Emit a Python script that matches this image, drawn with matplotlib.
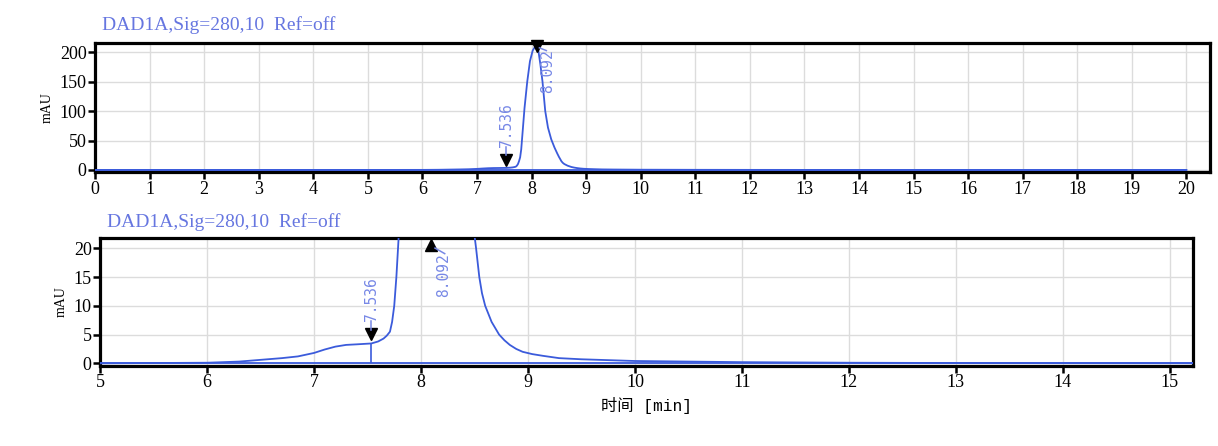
import matplotlib
matplotlib.use('Agg')
import matplotlib.pyplot as plt
from matplotlib.transforms import offset_copy

# chromatogram (min, mAU)
times = [0, 1, 2, 3, 4, 5, 5.5, 6.0, 6.3, 6.5, 6.7, 6.85, 7.0, 7.1, 7.2, 7.3, 7.4,
         7.536, 7.6, 7.65, 7.68, 7.71, 7.73, 7.75, 7.77, 7.79, 7.81, 7.84, 7.87,
         7.92, 7.97, 8.02, 8.06, 8.092, 8.12, 8.16, 8.20, 8.25, 8.30, 8.36, 8.42,
         8.47, 8.505, 8.515, 8.545, 8.57, 8.60, 8.66, 8.73, 8.78, 8.83, 8.89, 8.95,
         9.04, 9.14, 9.29, 9.5, 9.75, 10.0, 10.5, 11, 12, 13, 14, 15, 16, 17, 18,
         19, 20]
signal = [0, 0, 0, 0, 0, 0, 0.05, 0.1, 0.3, 0.6, 0.9, 1.2, 1.8, 2.4, 2.9, 3.2, 3.3,
          3.45, 3.8, 4.3, 4.8, 5.5, 7.2, 10, 15, 21.5, 35, 70, 105,
          150, 185, 203, 209, 210, 205, 180, 150, 100, 72, 52, 38,
          28, 21.5, 20, 15, 12.2, 10, 7.2, 5, 4, 3.2, 2.5, 2.0,
          1.6, 1.3, 0.9, 0.7, 0.55, 0.4, 0.3, 0.2, 0.1, 0.05, 0.03, 0.02, 0, 0, 0,
          0, 0]

peak_times = [7.536, 8.092]
peak_heights = [3.45, 210]
baseline_t = [0, 20]
baseline_v = [0, 0]

top_yticks = [0, 50, 100, 150, 200]
bot_yticks = [0, 5, 10, 15, 20]
title = 'DAD1A,Sig=280,10  Ref=off'

line_col = '#3b5bdb'
lab_col = '#7788e6'
title_col = '#6676e0'

fig = plt.figure(figsize=(12.18, 4.46), dpi=100)
ax1 = fig.add_axes([0.0780, 0.6137, 0.9154, 0.2892])
ax2 = fig.add_axes([0.0821, 0.1800, 0.8976, 0.2857])


def style(ax, xticks, yticks):
    ax.set_xticks(xticks)
    ax.set_yticks(yticks)
    ax.grid(True, color='#dcdcdc', lw=1)
    ax.set_axisbelow(True)
    for s in ax.spines.values():
        s.set_linewidth(2.3)
        s.set_color('black')
    ax.tick_params(direction='out', length=5, width=1.8, color='black', pad=1,
                   labelsize=13)
    for lab in ax.get_xticklabels() + ax.get_yticklabels():
        lab.set_family('Liberation Serif')
    ax.set_ylabel('mAU', family='Liberation Serif', fontsize=10, labelpad=4)


# top panel: full run
ax1.plot(times, signal, color=line_col, lw=1.3, zorder=3)
ax1.plot(baseline_t, baseline_v, color=line_col, lw=1.3, zorder=3)
ax1.set_xlim(0, 20.43)
ax1.set_ylim(-4, 215.3)
style(ax1, range(0, 21), top_yticks)
ax1.text(0.006, 1.14, title, transform=ax1.transAxes, family='Liberation Serif',
         fontsize=14, color=title_col, va='center', ha='left')

# bottom panel: zoom
ax2.plot(times, signal, color=line_col, lw=1.3, zorder=3)
ax2.plot(baseline_t, baseline_v, color=line_col, lw=1.3, zorder=3)
ax2.vlines(peak_times[0], 0, peak_heights[0], color=line_col, lw=1.2, zorder=3)
ax2.set_xlim(5, 15.218)
ax2.set_ylim(-0.42, 21.74)
style(ax2, range(5, 16), bot_yticks)
ax2.text(0.0064, 1.125, title, transform=ax2.transAxes, family='Liberation Serif',
         fontsize=14, color=title_col, va='center', ha='left')
ax2.set_xlabel('时间 [min]', family=['Liberation Mono', 'Noto Sans CJK SC'],
               fontsize=11.7, labelpad=4)


def marker(ax, x, y, m, dy, trans=None):
    base = trans if trans is not None else ax.transData
    tr = offset_copy(base, fig=fig, x=0, y=dy, units='points')
    ax.plot([x], [y], marker=m, color='black', markersize=8, transform=tr,
            clip_on=False, zorder=6, ls='none')


def label(ax, x, y, dx, dy, va, trans=None):
    base = trans if trans is not None else ax.transData
    tr = offset_copy(base, fig=fig, x=dx, y=dy, units='points')
    ax.text(x, y, f'{x:.3f}', transform=tr, rotation=90, ha='center', va=va,
            family='DejaVu Sans Mono', fontsize=10.5, color=lab_col, zorder=5,
            clip_on=False)


def tick(ax, x, y, dx0, dy0, dx1, dy1, trans=None):
    base = trans if trans is not None else ax.transData
    t0 = offset_copy(base, fig=fig, x=dx0, y=dy0, units='points')
    t1 = offset_copy(base, fig=fig, x=dx1, y=dy1, units='points')
    p0 = fig.transFigure.inverted().transform(t0.transform((x, y)))
    p1 = fig.transFigure.inverted().transform(t1.transform((x, y)))
    fig.add_artist(plt.Line2D([p0[0], p1[0]], [p0[1], p1[1]], color=lab_col,
                              lw=1.1, transform=fig.transFigure, zorder=5))


fig.canvas.draw()

# top panel peak marks
t0, t1 = peak_times
h0, h1 = peak_heights
marker(ax1, t0, h0, 'v', 6)
tick(ax1, t0, h0, 0, 9, 0, 15)
label(ax1, t0, h0, 0, 15, 'bottom')
marker(ax1, t1, h1, 'v', 0)
tick(ax1, t1, h1, 2, -1, 7, -3)
label(ax1, t1, h1, 8, -2, 'top')

# bottom panel peak marks
marker(ax2, t0, h0, 'v', 6.5)
tick(ax2, t0, h0, 0, 10, 0, 16)
label(ax2, t0, h0, 0, 16, 'bottom')
xt = ax2.get_xaxis_transform()
marker(ax2, t1, 0.945, '^', 0, xt)
tick(ax2, t1, 0.945, 3, -2, 10, -6, xt)
label(ax2, t1, 0.945, 9, -6, 'top', xt)

fig.savefig('out.png', dpi=100, facecolor='white')
